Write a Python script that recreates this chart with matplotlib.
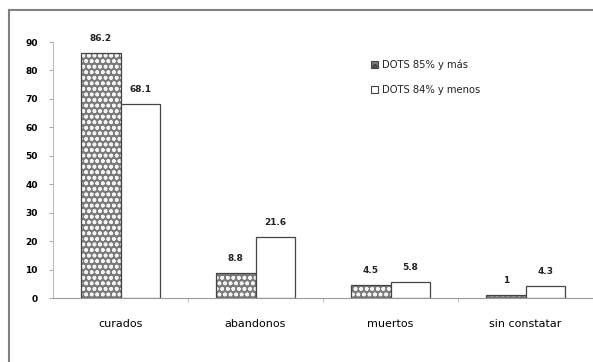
import matplotlib
matplotlib.use("Agg")
import matplotlib.pyplot as plt
import numpy as np
from matplotlib.lines import Line2D

categorias = ["curados", "abandonos", "muertos", "sin constatar"]
dots_85_mas = [86.2, 8.8, 4.5, 1]
dots_84_menos = [68.1, 21.6, 5.8, 4.3]
etiquetas_85 = ["86.2", "8.8", "4.5", "1"]
etiquetas_84 = ["68.1", "21.6", "5.8", "4.3"]
series = ["DOTS 85% y más", "DOTS 84% y menos"]
yticks = [0, 10, 20, 30, 40, 50, 60, 70, 80, 90]

W, H = 593, 362
fig = plt.figure(figsize=(W / 100, H / 100), dpi=100)
plt.rcParams["hatch.linewidth"] = 1.1

# marco exterior de la figura
gris = "#808080"
fig.add_artist(Line2D([9 / W, 9 / W], [0, 1 - 10 / H], color=gris, lw=1.5,
                      transform=fig.transFigure))
fig.add_artist(Line2D([9 / W, 1], [1 - 10 / H, 1 - 10 / H], color=gris, lw=1.5,
                      transform=fig.transFigure))

ax = fig.add_axes([53 / W, 1 - 298 / H, (W - 53) / W, (298 - 42) / H])
x = np.arange(len(categorias))
ancho = 0.29

# barra con trama: fondo gris, trama blanca encima y contorno oscuro
ax.bar(x - ancho / 2, dots_85_mas, ancho, facecolor="#7a7a7a", linewidth=0)
ax.bar(x - ancho / 2, dots_85_mas, ancho, facecolor="none",
       edgecolor="#f4f4f4", hatch="ooo", linewidth=0)
b1 = ax.bar(x - ancho / 2, dots_85_mas, ancho, facecolor="none",
            edgecolor="#444444", linewidth=0.9)
b2 = ax.bar(x + ancho / 2, dots_84_menos, ancho, facecolor="white",
            edgecolor="#444444", linewidth=0.9)

for barras, textos in ((b1, etiquetas_85), (b2, etiquetas_84)):
    for r, t in zip(barras, textos):
        ax.text(r.get_x() + r.get_width() / 2, r.get_height() + 3.5, t,
                ha="center", va="bottom", fontsize=6.5, fontweight="bold",
                color="#222222")

ax.set_xlim(-0.5, -0.5 + (W - 53) / 136)
ax.set_ylim(0, 90)
ax.set_yticks(yticks)
ax.set_yticklabels([str(v) for v in yticks], fontsize=6.5, fontweight="bold")
ax.set_xticks(x)
ax.set_xticklabels(categorias, fontsize=8)
ax.set_xticks(np.arange(0.5, len(categorias), 1), minor=True)
ax.tick_params(axis="x", which="major", length=0, pad=15)
ax.tick_params(axis="x", which="minor", length=3, color="#aaaaaa")
ax.tick_params(axis="y", length=3, color="#aaaaaa", pad=8)

for s in ("top", "right"):
    ax.spines[s].set_visible(False)
ax.spines["left"].set_color("#bbbbbb")
ax.spines["bottom"].set_color("#999999")

# leyenda con muestras propias para reproducir la trama
h1 = plt.Rectangle((0, 0), 1, 1, facecolor="#7a7a7a", edgecolor="#444444",
                   hatch="oo", linewidth=0.8)
h2 = plt.Rectangle((0, 0), 1, 1, facecolor="white", edgecolor="#444444",
                   linewidth=0.8)
leg = ax.legend([h1, h2], series, loc="upper left",
                bbox_to_anchor=(0.573, 0.965), frameon=False, fontsize=7.2,
                handlelength=0.7, handleheight=0.7, handletextpad=0.4,
                labelspacing=1.5)
for t in leg.get_texts():
    t.set_color("#222222")

fig.savefig("out.png", dpi=100)
